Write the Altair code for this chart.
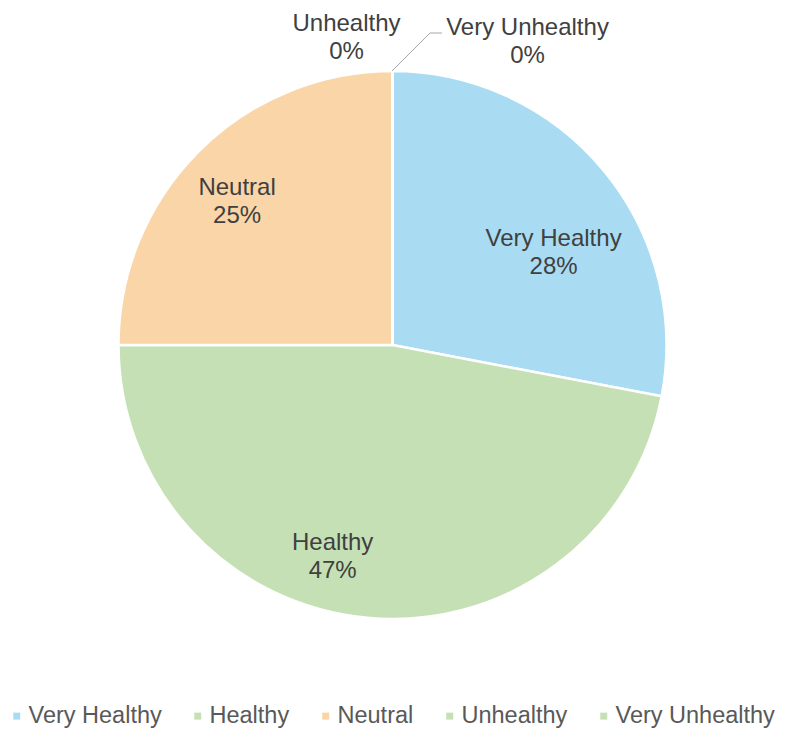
import altair as alt
import pandas as pd

categories = ["Very Healthy", "Healthy", "Neutral", "Unhealthy", "Very Unhealthy"]
values = [28, 47, 25, 0, 0]
colors = ["#A9DCF2", "#C5E0B4", "#F9D5A7", "#C5E0B4", "#C5E0B4"]

df = pd.DataFrame({
    "category": categories,
    "value": values,
    "order": list(range(len(categories))),
})
total = sum(values)

W, H = 769, 674
FONT = "Liberation Sans"

color_scale = alt.Scale(domain=categories, range=colors)

base = alt.Chart(df)

pie = base.mark_arc(outerRadius=274, stroke="white", strokeWidth=2.5).encode(
    theta=alt.Theta("value:Q", stack=True),
    order=alt.Order("order:Q"),
    color=alt.Color(
        "category:N",
        scale=color_scale,
        sort=categories,
        legend=alt.Legend(
            title=None,
            orient="none",
            direction="horizontal",
            legendX=-3,
            legendY=696,
            symbolType="square",
            symbolSize=49,
            symbolStrokeWidth=0,
            labelFont=FONT,
            labelFontSize=23.5,
            labelColor="#595959",
            labelOffset=0,
            columnPadding=24,
            labelLimit=300,
            padding=0,
        ),
    ),
)

lab = (
    base.transform_window(cum="sum(value)", sort=[alt.SortField("order")])
    .transform_calculate(
        mid="datum.cum - datum.value / 2",
        label="datum.category + '\\n' + format(datum.value / %d, '.0%%')" % total,
    )
)

def text_layer(cat, radius, dx, dy):
    return lab.transform_filter(alt.datum.category == cat).mark_text(
        radius=radius, dx=dx, dy=dy, font=FONT, fontSize=24, color="#404040",
        lineBreak="\n", lineHeight=28, align="center", baseline="middle",
    ).encode(
        theta=alt.Theta("mid:Q", scale=alt.Scale(domain=[0, total]), stack=None),
        text="label:N",
    )

texts = [
    text_layer("Very Healthy", 200, 7, 21),
    text_layer("Healthy", 200, -41, -1),
    text_layer("Neutral", 200, -14, -16),
    text_layer("Unhealthy", 300, -46, -21),
    text_layer("Very Unhealthy", 300, 135, -17),
]

leader1 = alt.Chart(df.head(1)).mark_rule(color="#A6A6A6", strokeWidth=1).encode(
    x=alt.value(384), y=alt.value(63), x2=alt.value(422), y2=alt.value(25)
)
leader2 = alt.Chart(df.head(1)).mark_rule(color="#A6A6A6", strokeWidth=1).encode(
    x=alt.value(422), y=alt.value(25), x2=alt.value(434), y2=alt.value(25)
)

chart = alt.layer(pie, *texts, leader1, leader2).properties(
    width=W,
    height=H,
    autosize=alt.AutoSizeParams(type="none"),
    padding={"left": 0, "top": 0, "right": 0, "bottom": 46},
).configure_view(stroke=None)

chart.save("out.html", embed_options={"renderer": "svg", "actions": False})
